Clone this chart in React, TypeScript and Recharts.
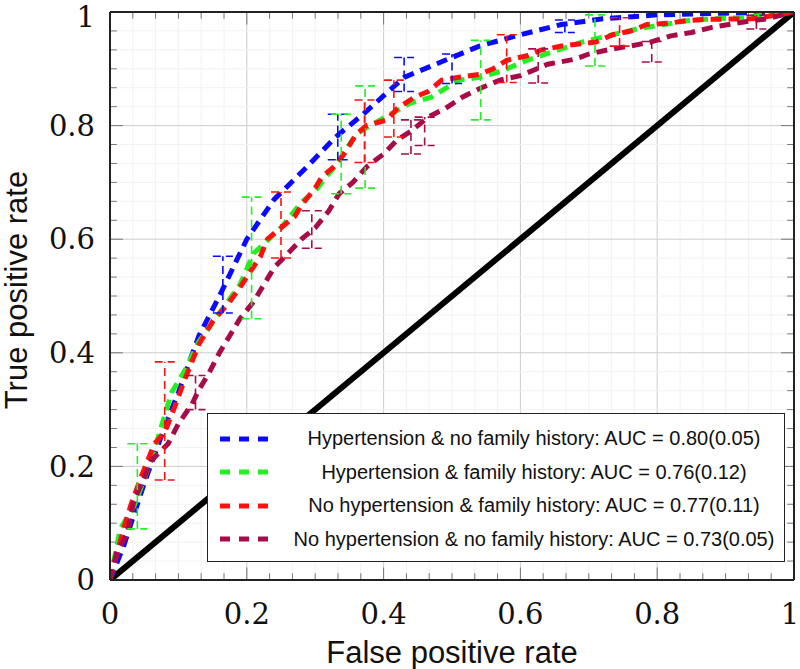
import { ComposedChart, Line, Scatter, ErrorBar, XAxis, YAxis, ReferenceLine, Label } from "recharts"

// ROC curves (false positive rate, true positive rate)
const htnNoFam = [
  { x: 0, y: 0 }, { x: 0.02, y: 0.06 }, { x: 0.05, y: 0.17 }, { x: 0.08, y: 0.27 },
  { x: 0.1, y: 0.33 }, { x: 0.13, y: 0.43 }, { x: 0.16, y: 0.5 }, { x: 0.2, y: 0.6 },
  { x: 0.24, y: 0.67 }, { x: 0.29, y: 0.73 }, { x: 0.33, y: 0.78 }, { x: 0.37, y: 0.82 },
  { x: 0.43, y: 0.885 }, { x: 0.49, y: 0.915 }, { x: 0.54, y: 0.94 }, { x: 0.6, y: 0.96 },
  { x: 0.66, y: 0.978 }, { x: 0.72, y: 0.988 }, { x: 0.8, y: 0.995 }, { x: 0.9, y: 0.998 }, { x: 1, y: 1 },
]
const htnFam = [
  { x: 0, y: 0 }, { x: 0.015, y: 0.09 }, { x: 0.035, y: 0.13 }, { x: 0.06, y: 0.21 },
  { x: 0.09, y: 0.33 }, { x: 0.11, y: 0.37 }, { x: 0.13, y: 0.42 }, { x: 0.16, y: 0.47 },
  { x: 0.19, y: 0.52 }, { x: 0.21, y: 0.575 }, { x: 0.25, y: 0.62 }, { x: 0.28, y: 0.665 },
  { x: 0.3, y: 0.685 }, { x: 0.33, y: 0.73 }, { x: 0.36, y: 0.785 }, { x: 0.38, y: 0.8 },
  { x: 0.44, y: 0.84 }, { x: 0.47, y: 0.85 }, { x: 0.51, y: 0.88 }, { x: 0.54, y: 0.885 },
  { x: 0.57, y: 0.895 }, { x: 0.61, y: 0.915 }, { x: 0.69, y: 0.947 }, { x: 0.77, y: 0.97 },
  { x: 0.85, y: 0.986 }, { x: 0.92, y: 0.99 }, { x: 1, y: 1 },
]
const noHtnFam = [
  { x: 0, y: 0 }, { x: 0.02, y: 0.09 }, { x: 0.03, y: 0.13 }, { x: 0.045, y: 0.18 },
  { x: 0.065, y: 0.24 }, { x: 0.08, y: 0.26 }, { x: 0.09, y: 0.29 }, { x: 0.11, y: 0.355 },
  { x: 0.13, y: 0.415 }, { x: 0.15, y: 0.455 }, { x: 0.175, y: 0.49 }, { x: 0.19, y: 0.515 },
  { x: 0.22, y: 0.57 }, { x: 0.23, y: 0.6 }, { x: 0.25, y: 0.62 }, { x: 0.27, y: 0.64 },
  { x: 0.28, y: 0.66 }, { x: 0.3, y: 0.69 }, { x: 0.31, y: 0.71 }, { x: 0.33, y: 0.73 },
  { x: 0.345, y: 0.755 }, { x: 0.36, y: 0.785 }, { x: 0.375, y: 0.8 }, { x: 0.405, y: 0.81 },
  { x: 0.42, y: 0.83 }, { x: 0.445, y: 0.85 }, { x: 0.465, y: 0.86 }, { x: 0.485, y: 0.88 },
  { x: 0.51, y: 0.885 }, { x: 0.54, y: 0.89 }, { x: 0.56, y: 0.9 }, { x: 0.58, y: 0.915 },
  { x: 0.61, y: 0.923 }, { x: 0.63, y: 0.933 }, { x: 0.66, y: 0.94 }, { x: 0.71, y: 0.947 },
  { x: 0.735, y: 0.96 }, { x: 0.76, y: 0.966 }, { x: 0.785, y: 0.978 }, { x: 0.815, y: 0.98 },
  { x: 0.845, y: 0.985 }, { x: 0.87, y: 0.987 }, { x: 0.94, y: 0.988 }, { x: 1, y: 1 },
]
const noHtnNoFam = [
  { x: 0, y: 0 }, { x: 0.01, y: 0.05 }, { x: 0.025, y: 0.08 }, { x: 0.035, y: 0.14 },
  { x: 0.05, y: 0.18 }, { x: 0.06, y: 0.21 }, { x: 0.085, y: 0.24 }, { x: 0.1, y: 0.275 },
  { x: 0.12, y: 0.31 }, { x: 0.13, y: 0.335 }, { x: 0.145, y: 0.365 }, { x: 0.16, y: 0.4 },
  { x: 0.175, y: 0.43 }, { x: 0.19, y: 0.46 }, { x: 0.21, y: 0.49 }, { x: 0.22, y: 0.51 },
  { x: 0.24, y: 0.55 }, { x: 0.26, y: 0.575 }, { x: 0.28, y: 0.6 }, { x: 0.3, y: 0.62 },
  { x: 0.32, y: 0.65 }, { x: 0.335, y: 0.68 }, { x: 0.355, y: 0.7 }, { x: 0.375, y: 0.727 },
  { x: 0.4, y: 0.75 }, { x: 0.42, y: 0.775 }, { x: 0.44, y: 0.79 }, { x: 0.465, y: 0.815 },
  { x: 0.49, y: 0.83 }, { x: 0.515, y: 0.85 }, { x: 0.54, y: 0.865 }, { x: 0.57, y: 0.88 },
  { x: 0.6, y: 0.888 }, { x: 0.62, y: 0.898 }, { x: 0.64, y: 0.908 }, { x: 0.68, y: 0.917 },
  { x: 0.7, y: 0.926 }, { x: 0.73, y: 0.934 }, { x: 0.76, y: 0.94 }, { x: 0.79, y: 0.947 },
  { x: 0.82, y: 0.958 }, { x: 0.85, y: 0.964 }, { x: 0.88, y: 0.973 }, { x: 0.91, y: 0.979 },
  { x: 0.94, y: 0.985 }, { x: 0.96, y: 0.988 }, { x: 1, y: 1 },
]

// error bars (centre and half-width)
const htnNoFamErr = [
  { x: 0.165, y: 0.52, err: 0.05 }, { x: 0.333, y: 0.78, err: 0.04 }, { x: 0.43, y: 0.89, err: 0.03 },
  { x: 0.5, y: 0.9, err: 0.026 }, { x: 0.665, y: 0.975, err: 0.011 },
]
const htnFamErr = [
  { x: 0.04, y: 0.165, err: 0.075 }, { x: 0.207, y: 0.567, err: 0.107 }, { x: 0.338, y: 0.75, err: 0.07 },
  { x: 0.373, y: 0.78, err: 0.09 }, { x: 0.542, y: 0.88, err: 0.07 }, { x: 0.709, y: 0.95, err: 0.045 },
]
const noHtnFamErr = [
  { x: 0.08, y: 0.28, err: 0.104 }, { x: 0.25, y: 0.625, err: 0.058 }, { x: 0.372, y: 0.79, err: 0.055 },
  { x: 0.415, y: 0.83, err: 0.05 }, { x: 0.58, y: 0.918, err: 0.042 }, { x: 0.745, y: 0.965, err: 0.025 },
]
const noHtnNoFamErr = [
  { x: 0.125, y: 0.33, err: 0.03 }, { x: 0.295, y: 0.617, err: 0.033 }, { x: 0.44, y: 0.78, err: 0.03 },
  { x: 0.46, y: 0.79, err: 0.025 }, { x: 0.626, y: 0.905, err: 0.03 }, { x: 0.792, y: 0.93, err: 0.018 },
  { x: 0.945, y: 0.982, err: 0.012 },
]

const chance = [{ x: 0, y: 0 }, { x: 1, y: 1 }]

const MAJOR_TICKS = [0, 0.2, 0.4, 0.6, 0.8, 1]
const MINOR_PER_MAJOR = 6
const minorTicks: number[] = []
for (let i = 0; i <= 5 * MINOR_PER_MAJOR; i++) minorTicks.push(i / (5 * MINOR_PER_MAJOR))

const series = [
  { name: "Hypertension & no family history: AUC = 0.80(0.05)", color: "#0a0aff", data: htnNoFam, err: htnNoFamErr },
  { name: "Hypertension & family history: AUC = 0.76(0.12)", color: "#22f022", data: htnFam, err: htnFamErr },
  { name: "No hypertension & family history: AUC = 0.77(0.11)", color: "#ff1010", data: noHtnFam, err: noHtnFamErr },
  { name: "No hypertension & no family history: AUC = 0.73(0.05)", color: "#a80c48", data: noHtnNoFam, err: noHtnNoFamErr },
]

const tickFont = { fill: "#111", fontSize: 29, fontFamily: "'DejaVu Serif', 'Liberation Serif', serif" }
const labelFont = { fill: "#111", fontSize: 31, fontFamily: "'Liberation Sans', Arial, sans-serif" }
const fmt = (v: number) => (v === 0 || v === 1 ? String(v) : v.toFixed(1))

// x tick: keep the last label ("1") inside the page
function XTick(props: any) {
  const { x, y, payload } = props
  const last = payload.value === 1
  return (
    <text x={last ? x - 4 : x} y={y} dy="0.71em" textAnchor="middle" {...tickFont}>
      {fmt(payload.value)}
    </text>
  )
}

function Legend() {
  return (
    <div
      style={{
        position: "absolute", left: 207, top: 413, width: 578, height: 149,
        border: "1.5px solid #222", background: "#fff",
        fontFamily: "'Liberation Sans', Arial, sans-serif", fontSize: 20, color: "#111",
        paddingTop: 8, boxSizing: "border-box",
      }}
    >
      {series.map((s) => (
        <div key={s.name} style={{ display: "flex", alignItems: "center", height: 33.5 }}>
          <svg width={70} height={10} style={{ marginLeft: 10, flex: "none" }}>
            <line x1={2} y1={5} x2={56} y2={5} stroke={s.color} strokeWidth={5} strokeDasharray="10 9" />
          </svg>
          <span style={{ flex: 1, textAlign: "center", paddingRight: 4, whiteSpace: "nowrap" }}>{s.name}</span>
        </div>
      ))}
    </div>
  )
}

export default function App() {
  return (
    <div style={{ position: "absolute", left: 0, top: 0, width: 800, height: 669, background: "#fff" }}>
      <ComposedChart width={800} height={669} margin={{ top: 12, right: 6, bottom: 2, left: 0 }}>
        <XAxis
          type="number" dataKey="x" domain={[0, 1]} ticks={MAJOR_TICKS} tickFormatter={fmt}
          axisLine={false} tickLine={false} tick={<XTick />} tickMargin={17} height={87} allowDataOverflow
        >
          <Label value="False positive rate" position="insideBottom" offset={4} style={labelFont} />
        </XAxis>
        <YAxis
          type="number" dataKey="y" domain={[0, 1]} ticks={MAJOR_TICKS} tickFormatter={fmt}
          axisLine={false} tickLine={false} tick={tickFont} tickMargin={9} width={110} allowDataOverflow
        >
          <Label value="True positive rate" angle={-90} position="insideLeft" offset={16} dy={-6}
            style={{ ...labelFont, textAnchor: "middle" }} />
        </YAxis>

        {minorTicks.map((t, i) => (
          <ReferenceLine key={`gx${i}`} x={t} stroke={i % MINOR_PER_MAJOR === 0 ? "#cccccc" : "#f2f2f2"} strokeWidth={1} />
        ))}
        {minorTicks.map((t, i) => (
          <ReferenceLine key={`gy${i}`} y={t} stroke={i % MINOR_PER_MAJOR === 0 ? "#cccccc" : "#f2f2f2"} strokeWidth={1} />
        ))}
        {minorTicks.map((t, i) => (
          <ReferenceLine key={`tb${i}`} segment={[{ x: t, y: 0 }, { x: t, y: i % MINOR_PER_MAJOR === 0 ? 0.022 : 0.012 }]} stroke="#777" strokeWidth={1} />
        ))}
        {minorTicks.map((t, i) => (
          <ReferenceLine key={`tt${i}`} segment={[{ x: t, y: 1 }, { x: t, y: i % MINOR_PER_MAJOR === 0 ? 0.978 : 0.988 }]} stroke="#777" strokeWidth={1} />
        ))}
        {minorTicks.map((t, i) => (
          <ReferenceLine key={`tl${i}`} segment={[{ x: 0, y: t }, { x: i % MINOR_PER_MAJOR === 0 ? 0.019 : 0.01, y: t }]} stroke="#777" strokeWidth={1} />
        ))}
        {minorTicks.map((t, i) => (
          <ReferenceLine key={`tr${i}`} segment={[{ x: 1, y: t }, { x: i % MINOR_PER_MAJOR === 0 ? 0.981 : 0.99, y: t }]} stroke="#777" strokeWidth={1} />
        ))}

        <Line data={chance} dataKey="y" stroke="#000" strokeWidth={6} dot={false} isAnimationActive={false} legendType="none" />

        {series.map((s) => (
          <Line
            key={s.name} data={s.data} dataKey="y" type="linear" stroke={s.color} strokeWidth={5}
            strokeDasharray="11 7" dot={false} isAnimationActive={false}
          />
        ))}
        {series.map((s) => (
          <Scatter key={`e-${s.name}`} data={s.err} dataKey="y" shape={() => <g />} isAnimationActive={false}>
            <ErrorBar dataKey="err" direction="y" width={10} stroke={s.color} strokeWidth={1.6} strokeDasharray="8 5" isAnimationActive={false} />
          </Scatter>
        ))}

        <ReferenceLine x={0} stroke="#222" strokeWidth={2} />
        <ReferenceLine x={1} stroke="#222" strokeWidth={2} />
        <ReferenceLine y={0} stroke="#222" strokeWidth={2} />
        <ReferenceLine y={1} stroke="#222" strokeWidth={2} />
      </ComposedChart>
      <Legend />
    </div>
  )
}
